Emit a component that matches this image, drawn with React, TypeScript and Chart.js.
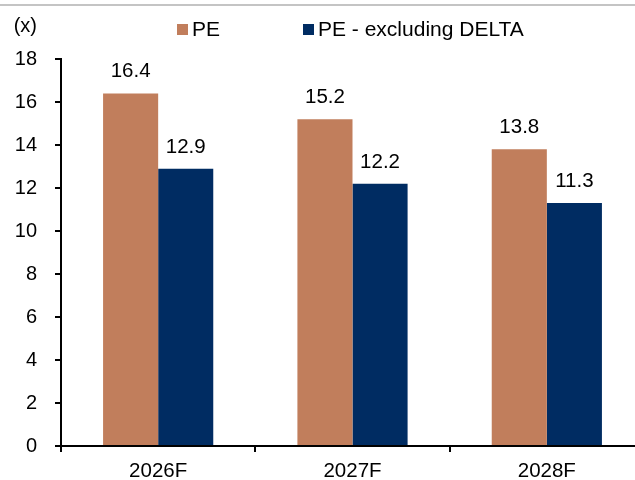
import React, { useEffect, useRef } from "react";
import { Chart, registerables } from "chart.js";

Chart.register(...registerables);

const categories = ["2026F", "2027F", "2028F"];
const peValues = [16.4, 15.2, 13.8];
const peExDeltaValues = [12.9, 12.2, 11.3];
const seriesNames = ["PE", "PE - excluding DELTA"];
const yTicks = [0, 2, 4, 6, 8, 10, 12, 14, 16, 18];
const unitLabel = "(x)";

const FONT = "'Liberation Sans', Arial, Helvetica, sans-serif";
const BROWN = "#C17E5C";
const NAVY = "#002C62";

export default function App() {
  const ref = useRef<HTMLCanvasElement | null>(null);

  useEffect(() => {
    const canvas = ref.current;
    if (!canvas) return;

    const decorPlugin = {
      id: "decor",
      afterDraw(chart: any) {
        const ctx = chart.ctx;
        ctx.save();
        // top grey rule
        ctx.fillStyle = "#C4C4C4";
        ctx.fillRect(0, 4, chart.width, 2);
        // unit label
        ctx.fillStyle = "#000";
        ctx.font = `20px ${FONT}`;
        ctx.textAlign = "right";
        ctx.textBaseline = "middle";
        ctx.fillText(unitLabel, 37, 26);
        // legend
        ctx.font = `21px ${FONT}`;
        const legendX = [177, 303];
        chart.data.datasets.forEach((ds: any, i: number) => {
          ctx.fillStyle = ds.backgroundColor;
          ctx.fillRect(legendX[i], 24, 11, 11);
          ctx.fillStyle = "#000";
          ctx.textAlign = "left";
          ctx.textBaseline = "middle";
          ctx.fillText(ds.label, legendX[i] + 15, 30);
        });
        // data labels
        ctx.font = `20.5px ${FONT}`;
        ctx.textAlign = "center";
        ctx.textBaseline = "alphabetic";
        chart.data.datasets.forEach((ds: any, i: number) => {
          const meta = chart.getDatasetMeta(i);
          meta.data.forEach((bar: any, j: number) => {
            ctx.fillText(ds.data[j].toFixed(1), bar.x, bar.y - 16);
          });
        });
        ctx.restore();
      },
    };

    const chart = new Chart(canvas, {
      type: "bar",
      data: {
        labels: categories,
        datasets: [
          {
            label: seriesNames[0],
            data: peValues,
            backgroundColor: BROWN,
            borderWidth: 0,
            categoryPercentage: 0.567,
            barPercentage: 1,
          },
          {
            label: seriesNames[1],
            data: peExDeltaValues,
            backgroundColor: NAVY,
            borderWidth: 0,
            categoryPercentage: 0.567,
            barPercentage: 1,
          },
        ],
      },
      options: {
        responsive: false,
        animation: false,
        layout: { padding: { top: 59, right: 2, left: 0, bottom: 0 } },
        plugins: {
          legend: { display: false },
          tooltip: { enabled: false },
          title: { display: false },
        },
        scales: {
          x: {
            offset: true,
            grid: {
              display: true,
              offset: true,
              drawOnChartArea: false,
              drawTicks: true,
              tickLength: 6,
              color: "#000",
              lineWidth: 2,
            },
            border: { display: true, color: "#000", width: 2 },
            ticks: {
              color: "#000",
              font: { family: FONT, size: 20.5 },
              padding: 7,
              maxRotation: 0,
            },
            afterFit(scale: any) {
              scale.height = 34;
            },
          },
          y: {
            min: 0,
            max: 18,
            afterBuildTicks(scale: any) {
              scale.ticks = yTicks.map((v) => ({ value: v }));
            },
            grid: {
              display: true,
              drawOnChartArea: false,
              drawTicks: true,
              tickLength: 6,
              color: "#000",
              lineWidth: 2,
            },
            border: { display: true, color: "#000", width: 2 },
            ticks: {
              color: "#000",
              font: { family: FONT, size: 20 },
              padding: 18,
            },
            afterFit(scale: any) {
              scale.width = 61;
            },
          },
        },
      },
      plugins: [decorPlugin],
    });

    return () => chart.destroy();
  }, []);

  return (
    <div
      style={{
        position: "fixed",
        left: 0,
        top: 0,
        width: 635,
        height: 480,
        overflow: "hidden",
        background: "#fff",
      }}
    >
      <canvas ref={ref} width={646} height={480} style={{ display: "block", width: 646, height: 480 }} />
    </div>
  );
}
